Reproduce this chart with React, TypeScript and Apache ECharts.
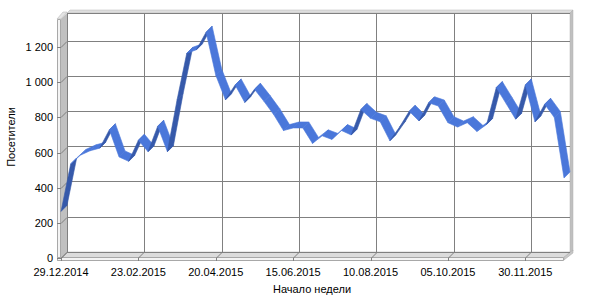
import React, { useEffect, useRef } from 'react';
import * as echarts from 'echarts';

// ---- data ----
const START_UTC = Date.UTC(2014, 11, 29);
const pad = (n: number) => (n < 10 ? '0' + n : '' + n);
const weeks: string[] = Array.from({ length: 53 }, (_, i) => {
  const d = new Date(START_UTC + i * 7 * 86400000);
  return pad(d.getUTCDate()) + '.' + pad(d.getUTCMonth() + 1) + '.' + d.getUTCFullYear();
});

const visitors: number[] = [
  265, 535, 585, 610, 625, 730, 575, 550, 670, 605,
  750, 605, 900, 1165, 1185, 1285, 1040, 900, 985, 885,
  960, 890, 815, 725, 740, 740, 652, 695, 675, 725,
  700, 845, 795, 775, 667, 745, 835, 780, 883, 865,
  770, 745, 770, 720, 760, 970, 880, 790, 985, 775,
  875, 800, 455,
];

const yTickValues = [0, 200, 400, 600, 800, 1000, 1200];
const xTickIndices = [0, 8, 16, 24, 32, 40, 48];
const Y_MAX = 1360;
const yTitle = 'Посетители';
const xTitle = 'Начало недели';

// ---- layout / style ----
const BX0 = 67, BX1 = 570, BY0 = 13, BY1 = 252;
const DX = -6, DY = 6;
const LIGHT = '#4a77da';
const DARK = '#3659aa';
const GRID = '#808080';
const FONT = '"Liberation Sans", Arial, sans-serif';

export default function App() {
  const ref = useRef<HTMLDivElement>(null);

  useEffect(() => {
    if (!ref.current) return;
    const chart = echarts.init(ref.current, null, { renderer: 'svg' });

    const fmt = (v: any) => String(v).replace(/\B(?=(\d{3})+(?!\d))/g, ' ');

    const option: any = {
      animation: false,
      backgroundColor: '#fff',
      textStyle: { fontFamily: FONT },
      grid: [
        { left: BX0, top: BY0, width: BX1 - BX0, height: BY1 - BY0, show: false },
        { left: BX0 + DX, top: BY0 + DY, width: BX1 - BX0, height: BY1 - BY0, show: false },
      ],
      xAxis: [
        {
          gridIndex: 0, type: 'category', data: weeks, boundaryGap: false,
          axisLine: { show: false }, axisTick: { show: false }, axisLabel: { show: false },
          splitLine: { show: true, interval: 7, lineStyle: { color: GRID, width: 1 } },
        },
        {
          gridIndex: 1, type: 'category', data: weeks, boundaryGap: false,
          axisLine: { show: false }, axisTick: { show: false },
          axisLabel: { show: true, interval: 7, margin: 8, fontSize: 11, color: '#000', fontFamily: FONT },
          splitLine: { show: false },
        },
      ],
      yAxis: [
        {
          gridIndex: 0, type: 'value', min: 0, max: Y_MAX, interval: 200,
          axisLine: { show: false }, axisTick: { show: false }, axisLabel: { show: false },
          splitLine: { show: true, lineStyle: { color: GRID, width: 1 } },
        },
        {
          gridIndex: 1, type: 'value', min: 0, max: Y_MAX, interval: 200,
          axisLine: { show: false }, axisTick: { show: false },
          axisLabel: { show: true, margin: 8, fontSize: 11, color: '#000', fontFamily: FONT, showMaxLabel: false, formatter: fmt },
          splitLine: { show: false },
        },
      ],
      graphic: [
        { type: 'rect', z: -10, shape: { x: BX0 + 0.5, y: BY0 + 0.5, width: BX1 - BX0, height: BY1 - BY0 }, style: { fill: '#fff', stroke: GRID, lineWidth: 1 } },
        { type: 'polygon', z: -9, shape: { points: [[BX0, BY0], [BX0 + 3, BY0 - 3], [BX1 + 3, BY0 - 3], [BX1, BY0]] }, style: { fill: '#dedede', stroke: '#b4b4b4', lineWidth: 0.5 } },
        { type: 'polygon', z: -9, shape: { points: [[BX1, BY0], [BX1 + 3, BY0 - 3], [BX1 + 3, BY1 - 1], [BX1, BY1 + 2]] }, style: { fill: '#c0c0c0', stroke: '#b0b0b0', lineWidth: 0.5 } },
        { type: 'polygon', z: -9, shape: { points: [[BX0 + DX, BY0 + DY], [BX0, BY0], [BX0, BY1], [BX0 + DX, BY1 + DY]] }, style: { fill: '#c0c0c0' } },
        { type: 'polygon', z: -9, shape: { points: [[BX0 + DX - 4, BY0 + DY], [BX0 - 4, BY0 - 1], [BX0, BY0 - 1], [BX0 + DX, BY0 + DY]] }, style: { fill: '#e4e4e4', stroke: '#b0b0b0', lineWidth: 0.5 } },
        { type: 'rect', z: -9, shape: { x: BX0 + DX - 3.5, y: BY0 + DY + 0.5, width: 3, height: BY1 - BY0 + 2 }, style: { fill: '#f4f4f4', stroke: '#a8a8a8', lineWidth: 1 } },
        { type: 'polygon', z: -9, shape: { points: [[BX0 + DX, BY1 + DY], [BX0, BY1], [BX1, BY1], [BX1 + DX, BY1 + DY]] }, style: { fill: '#dcdcdc', stroke: '#a8a8a8', lineWidth: 0.5 } },
        { type: 'rect', z: -9, shape: { x: BX0 + DX - 3.5, y: BY1 + DY - 0.5, width: BX1 - BX0 + 3, height: 3 }, style: { fill: '#f4f4f4', stroke: '#a8a8a8', lineWidth: 1 } },
        { type: 'polygon', z: -9, shape: { points: [[BX1 + DX, BY1 + DY - 1], [BX1 + 3, BY1 - 2], [BX1 + 3, BY1 + 1], [BX1 + DX, BY1 + DY + 2]] }, style: { fill: '#c8c8c8', stroke: '#a8a8a8', lineWidth: 0.5 } },
        { type: 'text', style: { text: yTitle, x: 0, y: 0, font: '11px ' + FONT, fill: '#000', align: 'center', verticalAlign: 'middle' }, x: 11, y: 137, rotation: Math.PI / 2 },
        { type: 'text', style: { text: xTitle, x: 312, y: 289, font: '11px ' + FONT, fill: '#000', align: 'center', verticalAlign: 'middle' } },
      ],
      series: [
        {
          type: 'custom', xAxisIndex: 0, yAxisIndex: 0, z: 3, clip: false,
          data: visitors.map((v, i) => [i, v]),
          renderItem: (params: any, api: any) => {
            const i = params.dataIndex;
            if (i >= visitors.length - 1) return { type: 'group', children: [] };
            const b0 = api.coord([i, api.value(1)]);
            const b1 = api.coord([i + 1, visitors[i + 1]]);
            const f0 = [b0[0] + DX, b0[1] + DY];
            const f1 = [b1[0] + DX, b1[1] + DY];
            const sx = b1[0] - b0[0], sy = b1[1] - b0[1];
            const col = sx + sy < 0 ? DARK : LIGHT;
            return {
              type: 'polygon',
              shape: { points: [b0, b1, f1, f0] },
              style: { fill: col, stroke: col, lineWidth: 0.6 },
            };
          },
        },
        {
          type: 'custom', xAxisIndex: 0, yAxisIndex: 0, z: 1, clip: false, silent: true,
          data: yTickValues.map((v) => [0, v]),
          renderItem: (params: any, api: any) => {
            const p = api.coord([api.value(0), api.value(1)]);
            const y = Math.round(p[1]) + 0.5;
            return {
              type: 'polyline',
              shape: { points: [[p[0], y], [p[0] + DX, y + DY], [p[0] + DX - 4, y + DY]] },
              style: { stroke: GRID, lineWidth: 1, fill: 'none' },
            };
          },
        },
        {
          type: 'custom', xAxisIndex: 0, yAxisIndex: 0, z: 1, clip: false, silent: true,
          data: xTickIndices.map((i) => [i, 0]),
          renderItem: (params: any, api: any) => {
            const p = api.coord([api.value(0), api.value(1)]);
            const x = Math.round(p[0]) + 0.5;
            return {
              type: 'polyline',
              shape: { points: [[x, p[1]], [x + DX, p[1] + DY], [x + DX, p[1] + DY + 3]] },
              style: { stroke: GRID, lineWidth: 1, fill: 'none' },
            };
          },
        },
      ],
    };

    chart.setOption(option);
    return () => chart.dispose();
  }, []);

  return (
    <div
      ref={ref}
      style={{ position: 'fixed', left: 0, top: 0, width: 600, height: 300, background: '#fff' }}
    />
  );
}
